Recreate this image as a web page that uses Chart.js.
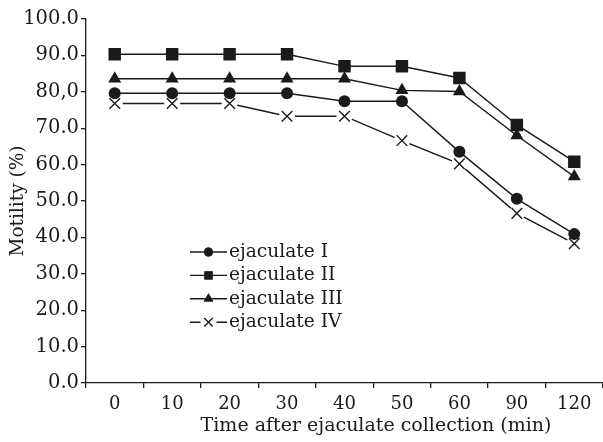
<!DOCTYPE html>
<html>
<head>
<meta charset="utf-8">
<script src="https://cdn.jsdelivr.net/npm/chart.js@4.4.1/dist/chart.umd.min.js"></script>
<style>
  html, body { margin: 0; padding: 0; background: #fff; }
  #wrap { width: 603px; height: 442px; }
</style>
</head>
<body>
<div id="wrap"><canvas id="motility" width="603" height="442"></canvas></div>
<script>
var timeLabels = ["0", "10", "20", "30", "40", "50", "60", "90", "120"];
var yTickLabels = ["0.0", "10.0", "20.0", "30.0", "40.0", "50.0", "60.0", "70.0", "80,0", "90.0", "100.0"];
var xTitle = "Time after ejaculate collection (min)";
var yTitle = "Motility (%)";

var ejaculateI   = [79.6, 79.6, 79.6, 79.6, 77.4, 77.4, 63.5, 50.6, 40.9];
var ejaculateII  = [90.3, 90.3, 90.3, 90.3, 87.0, 87.0, 83.8, 70.9, 60.8];
var ejaculateIII = [83.6, 83.6, 83.6, 83.6, 83.6, 80.4, 80.1, 68.0, 56.7];
var ejaculateIV  = [76.8, 76.8, 76.8, 73.3, 73.3, 66.6, 60.2, 46.6, 38.3];

var seriesNames = ["ejaculate I", "ejaculate II", "ejaculate III", "ejaculate IV"];

var ink = "#1a1a1a";
var serif = "'DejaVu Serif', 'Liberation Serif', serif";

function makeSet(name, values, style, radius, legendRadius) {
    var isCross = style === "crossRot";
    return {
        label: name,
        data: values,
        borderColor: ink,
        backgroundColor: ink,
        borderWidth: 1.4,
        pointStyle: style,
        pointRadius: radius,
        pointHoverRadius: radius,
        pointBackgroundColor: ink,
        pointBorderColor: ink,
        pointBorderWidth: isCross ? 1.4 : 0,
        legendRadius: legendRadius,
        fill: false,
        tension: 0
    };
}

var datasets = [
    makeSet(seriesNames[0], ejaculateI, "circle", 6, 4.5),
    makeSet(seriesNames[1], ejaculateII, "rect", 8.8, 5.8),
    makeSet(seriesNames[2], ejaculateIII, "triangle", 7.5, 5.5),
    makeSet(seriesNames[3], ejaculateIV, "crossRot", 7.5, 6)
];

// white gap round the crosses, drawn before the other series go on top
var crossGaps = {
    id: "crossGaps",
    afterDatasetDraw: function(chart, args) {
        var ds = chart.data.datasets[args.index];
        if (ds.pointStyle !== "crossRot") return;
        var ctx = chart.ctx;
        ctx.save();
        args.meta.data.forEach(function(pt) {
            ctx.fillStyle = "#fff";
            ctx.beginPath();
            ctx.arc(pt.x, pt.y, 8, 0, Math.PI * 2);
            ctx.fill();
            ctx.strokeStyle = ink;
            ctx.lineWidth = ds.pointBorderWidth;
            Chart.helpers.drawPoint(ctx, { pointStyle: "crossRot", radius: ds.pointRadius, borderWidth: ds.pointBorderWidth }, pt.x, pt.y);
        });
        ctx.restore();
    }
};

// legend inside the plot and the x title, like the original figure
var innerLegend = {
    id: "innerLegend",
    afterDraw: function(chart) {
        var ctx = chart.ctx;
        var x0 = 190, x1 = 227, yStart = 252, step = 23.4;
        ctx.save();
        chart.data.datasets.forEach(function(ds, i) {
            var y = yStart + i * step;
            var mid = (x0 + x1) / 2;
            ctx.strokeStyle = ink;
            ctx.lineWidth = 1.4;
            ctx.beginPath();
            if (ds.pointStyle === "crossRot") {
                ctx.moveTo(x0, y); ctx.lineTo(mid - 8, y);
                ctx.moveTo(mid + 8, y); ctx.lineTo(x1, y);
            } else {
                ctx.moveTo(x0, y); ctx.lineTo(x1, y);
            }
            ctx.stroke();
            ctx.fillStyle = ink;
            Chart.helpers.drawPoint(ctx, {
                pointStyle: ds.pointStyle,
                radius: ds.legendRadius,
                borderWidth: ds.pointBorderWidth
            }, mid, y);
            if (ds.pointStyle !== "crossRot") ctx.fill();
            ctx.fillStyle = ink;
            ctx.font = "18.6px " + serif;
            ctx.textAlign = "left";
            ctx.textBaseline = "middle";
            ctx.fillText(ds.label, x1 + 2, y);
        });

        ctx.font = "19px " + serif;
        ctx.textAlign = "center";
        ctx.textBaseline = "middle";
        ctx.fillText(xTitle, 376, 426);
        ctx.restore();
    }
};

new Chart(document.getElementById("motility"), {
    type: "line",
    data: { labels: timeLabels, datasets: datasets },
    options: {
        responsive: false,
        animation: false,
        layout: { autoPadding: false, padding: { top: 19, right: 0, left: 0, bottom: 0 } },
        plugins: { legend: { display: false }, tooltip: { enabled: false } },
        scales: {
            x: {
                offset: true,
                grid: { offset: true, drawOnChartArea: false, drawTicks: true, tickLength: 5, color: ink, lineWidth: 1.3 },
                border: { color: ink, width: 1.3 },
                ticks: { color: ink, font: { family: serif, size: 18 }, padding: 6, maxRotation: 0 },
                afterFit: function(scale) {
                    scale.height = 59;
                    scale.paddingLeft = 0;
                    scale.paddingRight = 0;
                }
            },
            y: {
                min: 0, max: 100,
                grid: { drawOnChartArea: false, drawTicks: true, tickLength: 5, color: ink, lineWidth: 1.3 },
                border: { color: ink, width: 1.3 },
                ticks: {
                    stepSize: 10, color: ink, font: { family: serif, size: 19.5 }, padding: 2,
                    callback: function(value) { return yTickLabels[Math.round(value / 10)]; }
                },
                title: { display: true, text: yTitle, color: ink, font: { family: serif, size: 18.5 }, padding: { top: 7, bottom: 0 } },
                afterFit: function(scale) { scale.width = 86; }
            }
        }
    },
    plugins: [crossGaps, innerLegend]
});
</script>
</body>
</html>
